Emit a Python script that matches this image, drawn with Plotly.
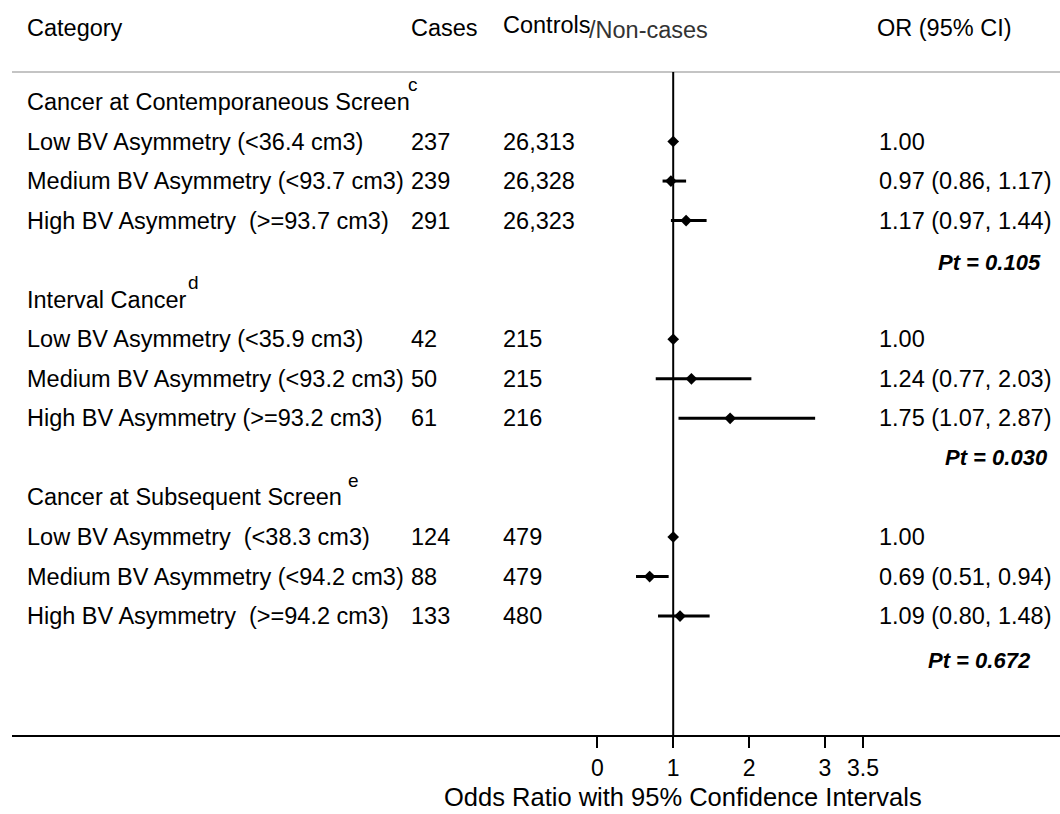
import plotly.graph_objects as go

# ---------------- data ----------------
groups = ["Cancer at Contemporaneous Screen", "Interval Cancer", "Cancer at Subsequent Screen"]
group_sup = ["c", "d", "e"]
labels = [
    "Low BV Asymmetry (<36.4 cm3)",
    "Medium BV Asymmetry (<93.7 cm3)",
    "High BV Asymmetry \u00a0(>=93.7 cm3)",
    "Low BV Asymmetry (<35.9 cm3)",
    "Medium BV Asymmetry (<93.2 cm3)",
    "High BV Asymmetry (>=93.2 cm3)",
    "Low BV Asymmetry \u00a0(<38.3 cm3)",
    "Medium BV Asymmetry (<94.2 cm3)",
    "High BV Asymmetry \u00a0(>=94.2 cm3)",
]
cases = [237, 239, 291, 42, 50, 61, 124, 88, 133]
controls = [26313, 26328, 26323, 215, 215, 216, 479, 479, 480]
odds = [1.00, 0.97, 1.17, 1.00, 1.24, 1.75, 1.00, 0.69, 1.09]
ci_low = [None, 0.86, 0.97, None, 0.77, 1.07, None, 0.51, 0.80]
ci_high = [None, 1.17, 1.44, None, 2.03, 2.87, None, 0.94, 1.48]
p_trend = ["0.105", "0.030", "0.672"]
tick_vals = [0, 1, 2, 3, 3.5]
tick_text = ["0", "1", "2", "3", "3.5"]

# ---------------- layout helpers ----------------
W, H = 1060, 814
L, R, T, B = 12, 0, 72, 79
PW, PH = W - L - R, H - T - B
X0, XS = 597.3, 75.9          # pixel of OR=0, pixels per OR unit
Y0, YS = 141.5, 39.55         # pixel of first row, pixels per row

def xpaper(px):
    return (px - L) / PW

def ypaper(py):
    return (H - B - py) / PH

x_range = [(L - X0) / XS, (W - R - X0) / XS]
y_range = [(H - B - Y0) / YS, (T - Y0) / YS]

row_pos = [0, 1, 2, 5, 6, 7, 10, 11, 12]
group_pos = [-1, 4, 9]
pt_pos = [3.05, 8.0, 13.12]
pt_right = [1043, 1050, 1033]
sup_x = [406, 186, 346]

FONT = "Liberation Sans, Arial, sans-serif"
FS = 23.5

err_plus = [0 if h is None else h - o for o, h in zip(odds, ci_high)]
err_minus = [0 if lo is None else o - lo for o, lo in zip(odds, ci_low)]

fig = go.Figure()
fig.add_trace(go.Scatter(
    x=odds, y=row_pos, mode="markers",
    marker=dict(symbol="diamond", size=9, color="black"),
    error_x=dict(type="data", symmetric=False, array=err_plus, arrayminus=err_minus,
                 thickness=3, width=0, color="black"),
    showlegend=False, hoverinfo="skip",
))

ann = []
def add(text, x, y, xref="paper", yref="y", xanchor="left", size=FS, color="black", yshift=0):
    ann.append(dict(text=text, x=x, y=y, xref=xref, yref=yref, xanchor=xanchor,
                    yanchor="middle", showarrow=False, yshift=yshift,
                    font=dict(family=FONT, size=size, color=color)))

# header row
add("Category", xpaper(25), ypaper(28), yref="paper")
add("Cases", xpaper(409), ypaper(28), yref="paper")
add("Controls", xpaper(501), ypaper(25), yref="paper")
add("/Non-cases", xpaper(587), ypaper(30), yref="paper", color="#333333")
add("OR (95% CI)", xpaper(875), ypaper(28), yref="paper")

# groups
for g, s, gp, sx in zip(groups, group_sup, group_pos, sup_x):
    add(g, xpaper(25), gp)
    add(s, xpaper(sx), gp, size=19, yshift=17)

# rows
for lab, c, n, o, lo, hi, rp in zip(labels, cases, controls, odds, ci_low, ci_high, row_pos):
    add(lab, xpaper(25), rp)
    add(str(c), xpaper(409), rp)
    add(f"{n:,}", xpaper(501), rp)
    txt = f"{o:.2f}" if lo is None else f"{o:.2f} ({lo:.2f}, {hi:.2f})"
    add(txt, xpaper(877), rp)

# trend p-values
for p, pp, pr in zip(p_trend, pt_pos, pt_right):
    add(f"<b><i>Pt = {p}</i></b>", xpaper(pr), pp, xanchor="right", size=22)

# axis title
add("Odds Ratio with 95% Confidence Intervals", xpaper(683), ypaper(797),
    yref="paper", xanchor="center", size=25.5)

shapes = [
    dict(type="line", xref="paper", yref="paper", x0=0, x1=1, y0=1, y1=1,
         line=dict(color="#c4c4c4", width=2)),
    dict(type="line", xref="x", yref="paper", x0=1, x1=1, y0=0, y1=1,
         line=dict(color="black", width=2)),
]

fig.update_layout(
    width=W, height=H,
    margin=dict(l=L, r=R, t=T, b=B, pad=0),
    paper_bgcolor="white", plot_bgcolor="white",
    font=dict(family=FONT, size=FS, color="black"),
    annotations=ann, shapes=shapes,
    xaxis=dict(range=x_range, showgrid=False, zeroline=False,
               showline=True, linecolor="black", linewidth=2,
               ticks="outside", ticklen=11, tickwidth=1.5, tickcolor="black",
               tickvals=tick_vals, ticktext=tick_text,
               tickfont=dict(family=FONT, size=23, color="black")),
    yaxis=dict(range=y_range, visible=False, showgrid=False, zeroline=False),
)

fig.write_html("out.html", config={"displayModeBar": False},
               post_script="document.body.style.margin='0px';document.body.style.padding='0px';")
